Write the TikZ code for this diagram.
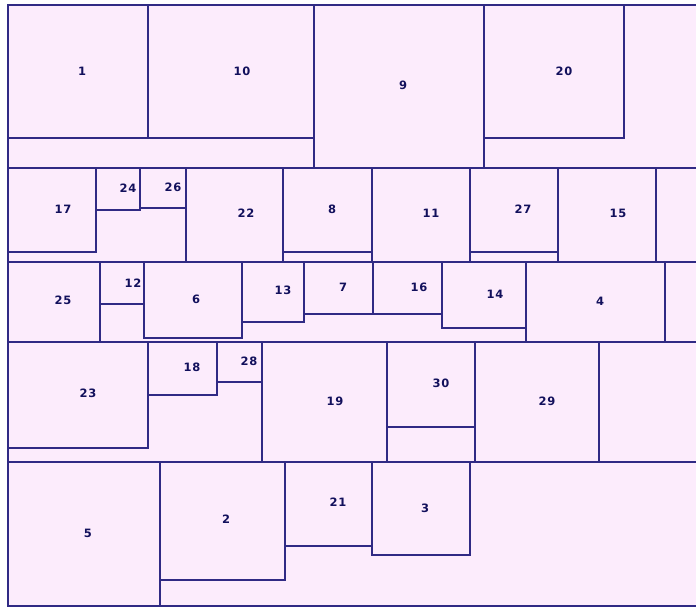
\documentclass[tikz,border=0pt]{standalone}
\usepackage{fontspec}
\newfontfamily\labfont[LetterSpace=6,BoldFont={DejaVu Sans Bold}]{DejaVu Sans}
\definecolor{pinkbg}{RGB}{252,236,252}
\definecolor{navy}{RGB}{48,42,132}
\definecolor{labcol}{RGB}{18,16,92}
\tikzset{
  frame/.style={draw=navy, line width=1.3pt, line cap=rect},
  lab/.style={text=labcol, font=\labfont\bfseries\fontsize{11.5}{12}\selectfont, inner sep=0pt}
}
\begin{document}
\begin{tikzpicture}[x=1pt,y=-1pt]
\useasboundingbox (0,0) rectangle (696,607);
\fill[white] (0,0) rectangle (696,607);
\fill[pinkbg] (8,5) rectangle (696,606);
% outer frame
\draw[frame] (696,5) -- (8,5) -- (8,606) -- (696,606);
% row separators
\foreach \yy in {168,262,342,462} \draw[frame] (8,\yy) -- (696,\yy);
% row 1
\draw[frame] (8,138) -- (314,138);
\draw[frame] (148,5) -- (148,138);
\draw[frame] (314,5) -- (314,168);
\draw[frame] (484,5) -- (484,168);
\draw[frame] (484,138) -- (624,138) -- (624,5);
% row 2
\draw[frame] (8,252) -- (96,252) -- (96,168);
\draw[frame] (96,210) -- (140,210) -- (140,168);
\draw[frame] (140,208) -- (186,208);
\draw[frame] (186,168) -- (186,262);
\draw[frame] (283,168) -- (283,262);
\draw[frame] (283,252) -- (372,252);
\draw[frame] (372,168) -- (372,262);
\draw[frame] (470,168) -- (470,262);
\draw[frame] (470,252) -- (558,252);
\draw[frame] (558,168) -- (558,262);
\draw[frame] (656,168) -- (656,262);
% row 3
\draw[frame] (100,262) -- (100,342);
\draw[frame] (100,304) -- (144,304);
\draw[frame] (144,262) -- (144,338) -- (242,338) -- (242,262);
\draw[frame] (242,322) -- (304,322) -- (304,262);
\draw[frame] (304,314) -- (442,314);
\draw[frame] (373,262) -- (373,314);
\draw[frame] (442,262) -- (442,328) -- (526,328);
\draw[frame] (526,262) -- (526,342);
\draw[frame] (665,262) -- (665,342);
% row 4
\draw[frame] (8,448) -- (148,448) -- (148,342);
\draw[frame] (148,395) -- (217,395) -- (217,342);
\draw[frame] (217,382) -- (262,382);
\draw[frame] (262,342) -- (262,462);
\draw[frame] (387,342) -- (387,462);
\draw[frame] (387,427) -- (475,427);
\draw[frame] (475,342) -- (475,462);
\draw[frame] (599,342) -- (599,462);
% row 5
\draw[frame] (160,462) -- (160,606);
\draw[frame] (160,580) -- (285,580) -- (285,462);
\draw[frame] (285,546) -- (372,546);
\draw[frame] (372,462) -- (372,555) -- (470,555) -- (470,462);
% labels
\node[lab] (n1) at (82,71) {1};
\node[lab] (n10) at (242,71) {10};
\node[lab] (n9) at (403,85) {9};
\node[lab] (n20) at (564,71) {20};
\node[lab] (n17) at (63,209) {17};
\node[lab] (n24) at (128,188) {24};
\node[lab] (n26) at (173,187) {26};
\node[lab] (n22) at (246,213) {22};
\node[lab] (n8) at (332,209) {8};
\node[lab] (n11) at (431,213) {11};
\node[lab] (n27) at (523,209) {27};
\node[lab] (n15) at (618,213) {15};
\node[lab] (n25) at (63,300) {25};
\node[lab] (n12) at (133,283) {12};
\node[lab] (n6) at (196,299) {6};
\node[lab] (n13) at (283,290) {13};
\node[lab] (n7) at (343,287) {7};
\node[lab] (n16) at (419,287) {16};
\node[lab] (n14) at (495,294) {14};
\node[lab] (n4) at (600,301) {4};
\node[lab] (n23) at (88,393) {23};
\node[lab] (n18) at (192,367) {18};
\node[lab] (n28) at (249,361) {28};
\node[lab] (n19) at (335,401) {19};
\node[lab] (n30) at (441,383) {30};
\node[lab] (n29) at (547,401) {29};
\node[lab] (n5) at (88,533) {5};
\node[lab] (n2) at (226,519) {2};
\node[lab] (n21) at (338,502) {21};
\node[lab] (n3) at (425,508) {3};
\end{tikzpicture}
\end{document}
